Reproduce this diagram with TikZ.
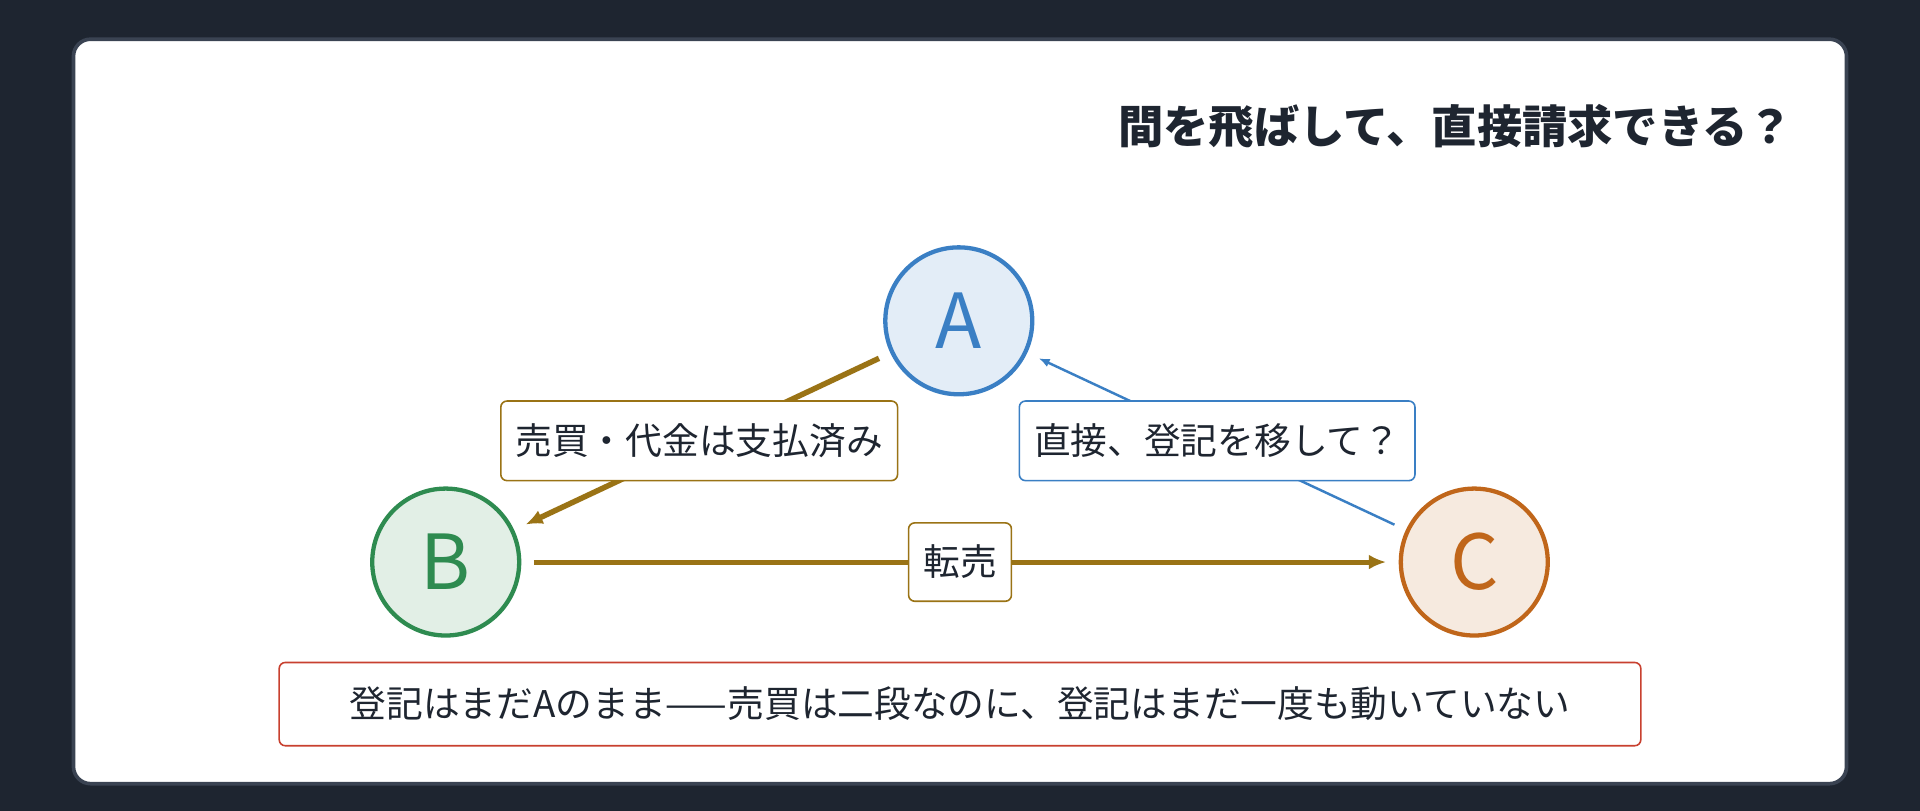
\documentclass[tikz,border=0pt]{standalone}
\usepackage{fontspec}
\usetikzlibrary{arrows.meta}
\setmainfont{Noto Sans CJK JP}
\definecolor{bgdark}{HTML}{1E2530}
\definecolor{cardedge}{HTML}{3A4352}
\definecolor{brown}{HTML}{9A7315}
\definecolor{blueA}{HTML}{3A7FC4}
\definecolor{greenB}{HTML}{2E8B50}
\definecolor{orangeC}{HTML}{C0661A}
\definecolor{redE}{HTML}{C8402F}
\begin{document}
\begin{tikzpicture}[x=1pt,y=-1pt,
  party/.style={circle,minimum size=120pt,line width=3.5pt,outer sep=12pt,inner sep=0pt,font=\fontsize{62}{62}\selectfont},
  lbl/.style={draw,line width=1.3pt,fill=white,rounded corners=5pt,inner xsep=12pt,font=\fontsize{30}{30}\selectfont,text=bgdark,minimum height=65pt}]
\useasboundingbox (0,0) rectangle (1568,662);
\fill[bgdark] (0,0) rectangle (1568,662);
\draw[cardedge,line width=3pt,fill=white,rounded corners=14pt] (60,32) rectangle (1508,640);
\node[anchor=east,text=bgdark,font=\fontsize{37}{37}\selectfont\bfseries] (title) at (1468,103) {間を飛ばして、直接請求できる？};
\node[party,draw=blueA,fill=blueA!14,text=blueA] (A) at (783,262) {A};
\node[party,draw=greenB,fill=greenB!14,text=greenB] (B) at (364,459) {B};
\node[party,draw=orangeC,fill=orangeC!14,text=orangeC] (C) at (1204,459) {C};
\draw[brown,line width=4.5pt,-{Latex[length=14pt,width=12pt]}] (A) -- (B);
\draw[brown,line width=4pt,-{Latex[length=14pt,width=12pt]}] (B) -- (C);
\draw[blueA,line width=2pt,-{Latex[length=9pt,width=7pt]}] (C) -- (A);
\node[lbl,draw=brown] (l1) at (571,360) {売買・代金は支払済み};
\node[lbl,draw=brown,minimum height=64pt] (l2) at (784,459) {転売};
\node[lbl,draw=blueA] (l3) at (994,360) {直接、登記を移して？};
\node[lbl,draw=redE,minimum width=1112pt,minimum height=68pt] (note) at (784,575) {登記はまだAのまま——売買は二段なのに、登記はまだ一度も動いていない};
\end{tikzpicture}
\end{document}
